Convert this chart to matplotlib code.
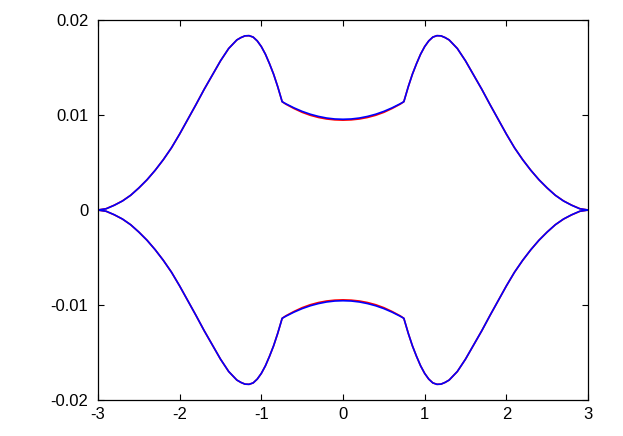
import matplotlib
matplotlib.use("Agg")
import matplotlib.pyplot as plt

# upper branch (lower branch is its mirror image)
x_vals = [-3.0, -2.9, -2.8, -2.7, -2.6, -2.5, -2.4, -2.3, -2.2, -2.1, -2.0,
          -1.9, -1.8, -1.7, -1.6, -1.5, -1.4, -1.3, -1.25, -1.2, -1.15, -1.1,
          -1.05, -1.0, -0.95, -0.9, -0.85, -0.8, -0.745,
          -0.7, -0.6, -0.5, -0.4, -0.3, -0.2, -0.1, 0.0,
          0.1, 0.2, 0.3, 0.4, 0.5, 0.6, 0.7,
          0.745, 0.8, 0.85, 0.9, 0.95, 1.0, 1.05, 1.1, 1.15, 1.2, 1.25, 1.3,
          1.4, 1.5, 1.6, 1.7, 1.8, 1.9, 2.0, 2.1, 2.2, 2.3, 2.4, 2.5, 2.6,
          2.7, 2.8, 2.9, 3.0]

blue_upper = [0.0, 0.00013, 0.0005, 0.00095, 0.00155, 0.00232, 0.00318, 0.00418,
              0.0053, 0.00655, 0.008, 0.00955, 0.0111, 0.0127, 0.0142, 0.0157,
              0.0170, 0.0179, 0.01815, 0.01833, 0.01835, 0.0182, 0.0178, 0.0172,
              0.0164, 0.0154, 0.0143, 0.0130, 0.0114,
              0.01118, 0.01075, 0.01038, 0.01008, 0.00985, 0.00968, 0.00958, 0.00955,
              0.00958, 0.00968, 0.00985, 0.01008, 0.01038, 0.01075, 0.01118,
              0.0114, 0.0130, 0.0143, 0.0154, 0.0164, 0.0172, 0.0178, 0.0182,
              0.01835, 0.01833, 0.01815, 0.0179, 0.0170, 0.0157, 0.0142, 0.0127,
              0.0111, 0.00955, 0.008, 0.00655, 0.0053, 0.00418, 0.00318, 0.00232,
              0.00155, 0.00095, 0.0005, 0.00013, 0.0]

red_upper = [0.0, 0.00014, 0.00051, 0.00096, 0.00155, 0.00232, 0.00318, 0.00418,
             0.0053, 0.00655, 0.008, 0.00955, 0.0111, 0.0127, 0.0142, 0.0157,
             0.0170, 0.0179, 0.01815, 0.01833, 0.01835, 0.0182, 0.0178, 0.0172,
             0.0164, 0.0154, 0.0143, 0.0130, 0.0114,
             0.01114, 0.01068, 0.01028, 0.00997, 0.00974, 0.00958, 0.00949, 0.00946,
             0.00949, 0.00958, 0.00974, 0.00997, 0.01028, 0.01068, 0.01114,
             0.0114, 0.0130, 0.0143, 0.0154, 0.0164, 0.0172, 0.0178, 0.0182,
             0.01835, 0.01833, 0.01815, 0.0179, 0.0170, 0.0157, 0.0142, 0.0127,
             0.0111, 0.00955, 0.008, 0.00655, 0.0053, 0.00418, 0.00318, 0.00232,
             0.00155, 0.00096, 0.00051, 0.00014, 0.0]

x_ticks = [-3, -2, -1, 0, 1, 2, 3]
x_labels = ["-3", "-2", "-1", "0", "1", "2", "3"]
y_ticks = [-0.02, -0.01, 0, 0.01, 0.02]
y_labels = ["-0.02", "-0.01", "0", "0.01", "0.02"]

plt.rcParams['font.family'] = ['Liberation Sans', 'DejaVu Sans']
plt.rcParams['font.size'] = 12

fig = plt.figure(figsize=(6.23, 4.36), dpi=100)
ax = fig.add_axes([98 / 623, 36 / 436, 490 / 623, 380 / 436])

ax.plot(x_vals, red_upper, color="#ff0000", lw=1.2)
ax.plot(x_vals, [-v for v in red_upper], color="#ff0000", lw=1.2)
ax.plot(x_vals, blue_upper, color="#0000ff", lw=1.2)
ax.plot(x_vals, [-v for v in blue_upper], color="#0000ff", lw=1.2)

ax.set_xlim(-3, 3)
ax.set_ylim(-0.02, 0.02)
ax.set_xticks(x_ticks)
ax.set_xticklabels(x_labels)
ax.set_yticks(y_ticks)
ax.set_yticklabels(y_labels)
ax.tick_params(direction="in", length=4.5, width=0.8, top=True, right=True,
               colors="black")
ax.tick_params(axis="y", pad=7)
ax.tick_params(axis="x", pad=5)
for s in ax.spines.values():
    s.set_linewidth(0.9)

fig.savefig("out.png", dpi=100)
